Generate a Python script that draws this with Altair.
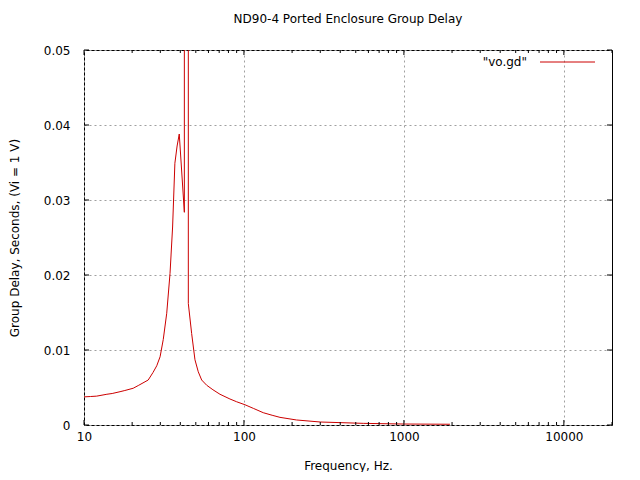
import altair as alt
import pandas as pd

# Curve
freq = [10, 11, 12, 13.9, 15, 16.8, 18, 20.3, 22, 25.2, 27, 28.5, 29.9, 31.3, 32.9,
        34.5, 35.8, 37.0, 38.2, 39.4, 42.4, 42.45, 44.85, 44.9, 47.1, 49.4, 51.8,
        54.4, 58.5, 64, 70.8, 81.7, 90, 101.5, 115, 132, 150, 168, 213, 300, 557,
        991, 1940]
delay = [0.00375, 0.0038, 0.00385, 0.0041, 0.0042, 0.00444, 0.0046, 0.0049, 0.0053,
         0.0060, 0.0070, 0.0079, 0.0091, 0.0114, 0.0149, 0.0202, 0.0264, 0.0349,
         0.0372, 0.0388, 0.02836, 0.2, 0.2, 0.0162, 0.0122, 0.0087, 0.0071, 0.0060,
         0.0053, 0.0047, 0.0041, 0.00347, 0.0031, 0.0027, 0.0022, 0.00164, 0.0013,
         0.00102, 0.00067, 0.0004, 0.00022, 0.00013, 0.0001]

x_major = [10, 100, 1000, 10000]
x_minor = [20, 30, 40, 50, 60, 70, 80, 90, 200, 300, 400, 500, 600, 700, 800, 900,
           2000, 3000, 4000, 5000, 6000, 7000, 8000, 9000, 20000]
y_major = [0, 0.01, 0.02, 0.03, 0.04, 0.05]

title = "ND90-4 Ported Enclosure Group Delay"
x_title = "Frequency, Hz."
y_title = "Group Delay, Seconds, (Vi = 1 V)"
legend_label = '"vo.gd"'

W, H = 528, 375
FONT = "DejaVu Sans"
RED = "#cc0000"

xscale = alt.Scale(type="log", domain=[10, 20000], nice=False)
yscale = alt.Scale(domain=[0, 0.05], nice=False, zero=False)

x_axis = alt.Axis(values=x_major, format="d", grid=True, ticks=False,
                  domain=False, title=x_title, labelPadding=6, labelFlush=False,
                  titleX=W / 2, titleY=40, titleBaseline="middle",
                  titleFontWeight="normal")
y_axis = alt.Axis(values=y_major, format=".2~f", grid=True, ticks=False,
                  domain=False, title=y_title, labelPadding=14, labelFlush=False,
                  titleX=-70, titleY=H / 2, titleBaseline="middle",
                  titleFontWeight="normal")

df = pd.DataFrame({"f": freq, "d": delay})

curve = alt.Chart(df).mark_line(color=RED, strokeWidth=1, clip=True).encode(
    x=alt.X("f:Q", scale=xscale, axis=x_axis),
    y=alt.Y("d:Q", scale=yscale, axis=y_axis),
)

xmaj = pd.DataFrame({"f": x_major})
xmin = pd.DataFrame({"f": x_minor})
ymaj = pd.DataFrame({"d": y_major})

def xticks(data, length):
    bottom = alt.Chart(data).mark_rule(color="black", strokeWidth=1).encode(
        x=alt.X("f:Q", scale=xscale, axis=x_axis),
        y=alt.value(H), y2=alt.value(H - length))
    top = alt.Chart(data).mark_rule(color="black", strokeWidth=1).encode(
        x=alt.X("f:Q", scale=xscale, axis=x_axis),
        y=alt.value(0), y2=alt.value(length))
    return [bottom, top]

yt_left = alt.Chart(ymaj).mark_rule(color="black", strokeWidth=1).encode(
    y=alt.Y("d:Q", scale=yscale, axis=y_axis), x=alt.value(0), x2=alt.value(5))
yt_right = alt.Chart(ymaj).mark_rule(color="black", strokeWidth=1).encode(
    y=alt.Y("d:Q", scale=yscale, axis=y_axis), x=alt.value(W), x2=alt.value(W - 5))

leg = pd.DataFrame({"label": [legend_label]})
leg_text = alt.Chart(leg).mark_text(align="right", baseline="middle", font=FONT,
                                    fontSize=12, color="black").encode(
    text="label:N", x=alt.value(443), y=alt.value(12))
leg_line = alt.Chart(leg).mark_rule(color=RED, strokeWidth=1).encode(
    x=alt.value(456), x2=alt.value(511), y=alt.value(12))

chart = alt.layer(
    curve, *xticks(xmaj, 5), *xticks(xmin, 3), yt_left, yt_right, leg_text, leg_line
).properties(
    width=W, height=H,
    title=alt.TitleParams(title, font=FONT, fontSize=12, fontWeight="normal",
                          anchor="middle", offset=18, color="black"),
    autosize=alt.AutoSizeParams(type="none"),
    padding={"left": 76, "top": 42, "right": 20, "bottom": 47},
    background="white",
).configure_view(
    stroke="black", strokeWidth=1
).configure_axis(
    labelFont=FONT, labelFontSize=12, labelColor="black",
    titleFont=FONT, titleFontSize=12, titleColor="black",
    gridColor="#a0a0a0", gridDash=[2, 3], gridWidth=1,
)

chart.save("out.html", embed_options={"renderer": "svg", "actions": False})
